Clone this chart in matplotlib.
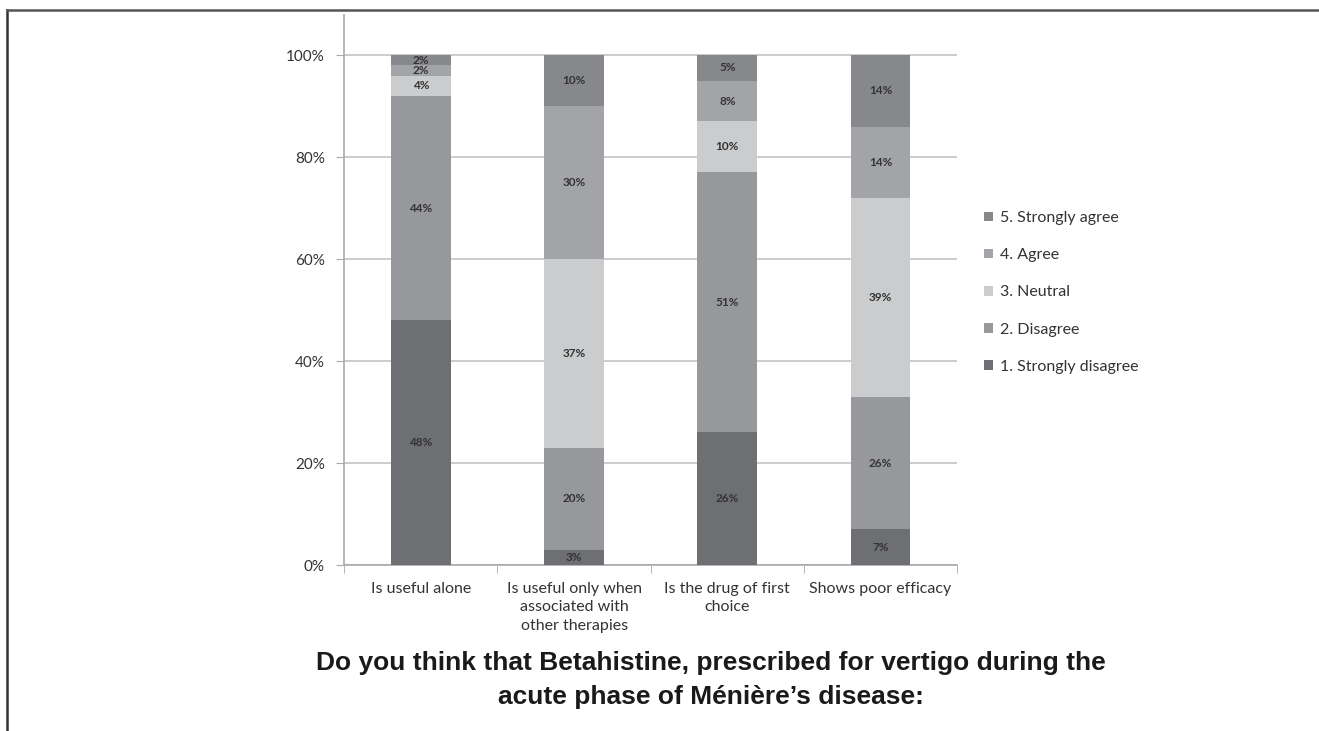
import numpy as np
import matplotlib.pyplot as plt
from matplotlib.lines import Line2D

categories = ["Is useful alone",
              "Is useful only when\nassociated with\nother therapies",
              "Is the drug of first\nchoice",
              "Shows poor efficacy"]
levels = ["1. Strongly disagree", "2. Disagree", "3. Neutral",
          "4. Agree", "5. Strongly agree"]
strongly_disagree = [48, 3, 26, 7]
disagree = [44, 20, 51, 26]
neutral = [4, 37, 10, 39]
agree = [2, 30, 8, 14]
strongly_agree = [2, 10, 5, 14]
colors = ["#6e6f72", "#97989b", "#cbcccd", "#a3a4a7", "#87888b"]

series = [strongly_disagree, disagree, neutral, agree, strongly_agree]

plt.rcParams['font.family'] = ['Lato', 'DejaVu Sans']

fig = plt.figure(figsize=(13.19, 7.31), dpi=100)
ax = fig.add_axes([0.261, 0.227, 0.4647, 0.752])

x = np.arange(len(categories))
bottom = np.zeros(len(categories))
handles = []
for vals, lab, col in zip(series, levels, colors):
    vals = np.asarray(vals, dtype=float) / 100
    bars = ax.bar(x, vals, 0.39, bottom=bottom, color=col, label=lab, zorder=3)
    for xi, v, b in zip(x, vals, bottom):
        ax.text(xi, b + v / 2, f"{int(round(v * 100))}%", ha="center", va="center",
                fontsize=8.5, fontweight="bold", color="#333333", zorder=4)
    handles.append(bars)
    bottom += vals

ax.set_xlim(-0.5, len(categories) - 0.5)
ax.set_ylim(0, 1.078)
ax.set_yticks(np.arange(0, 1.01, 0.2))
ax.set_yticklabels([f"{int(t * 100)}%" for t in np.arange(0, 1.01, 0.2)],
                   fontsize=11, color="#333333")
ax.yaxis.grid(True, color="#c4c4c4", linewidth=1.2, zorder=0)
ax.set_xticks(x)
ax.set_xticklabels(categories, fontsize=11.5, color="#333333", linespacing=1.4)
ax.set_xticks(np.arange(-0.5, len(categories), 1), minor=True)
ax.tick_params(axis="x", which="major", length=0, pad=12)
ax.tick_params(axis="x", which="minor", length=6, color="#aaaaaa")
ax.tick_params(axis="y", length=6, color="#aaaaaa", pad=8)
for s in ["top", "right"]:
    ax.spines[s].set_visible(False)
for s in ["left", "bottom"]:
    ax.spines[s].set_color("#aaaaaa")
    ax.spines[s].set_linewidth(1.2)

leg = fig.legend(handles[::-1], levels[::-1], loc="center left",
                 bbox_to_anchor=(0.735, 0.6), frameon=False, fontsize=11.5,
                 handlelength=0.55, handleheight=0.55, labelspacing=1.45,
                 handletextpad=0.45)
for t in leg.get_texts():
    t.set_color("#333333")

fig.text(0.539, 0.07, "Do you think that Betahistine, prescribed for vertigo during the\n"
         "acute phase of Ménière’s disease:", ha="center", va="center",
         fontsize=19, fontweight="bold", family="Liberation Sans",
         color="#1a1a1a", linespacing=1.5)

fig.add_artist(Line2D([0.005, 0.005], [0, 0.986], transform=fig.transFigure,
                      color="#333333", linewidth=1.8))
fig.add_artist(Line2D([0.005, 1.0], [0.986, 0.986], transform=fig.transFigure,
                      color="#555555", linewidth=1.8))

fig.savefig("out.png", dpi=100)
